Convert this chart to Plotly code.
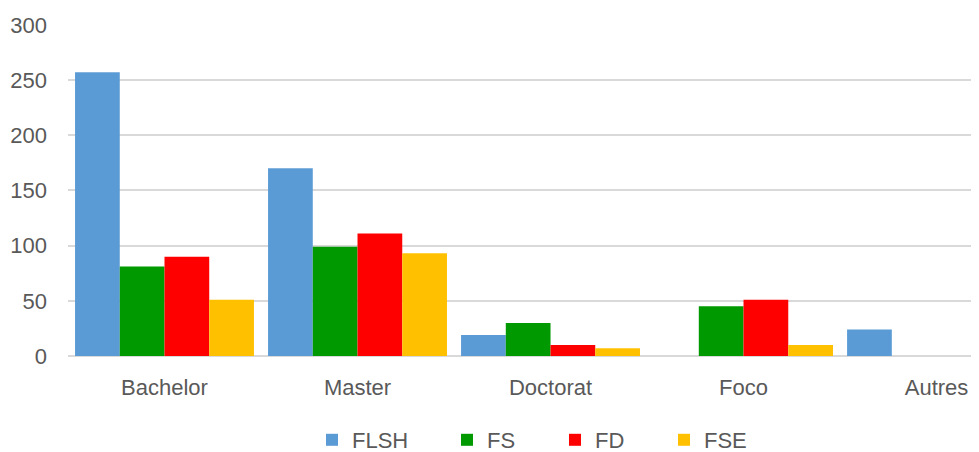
import plotly.graph_objects as go

categories = ["Bachelor", "Master", "Doctorat", "Foco", "Autres"]
flsh = [257, 170, 19, 0, 24]
fs = [81, 99, 30, 45, 0]
fd = [90, 111, 10, 51, 0]
fse = [51, 93, 7, 10, 0]
y_ticks = [0, 50, 100, 150, 200, 250, 300]

series = [
    ("FLSH", flsh, "#5B9BD5", "legend"),
    ("FS", fs, "#009900", "legend2"),
    ("FD", fd, "#FF0000", "legend3"),
    ("FSE", fse, "#FFC000", "legend4"),
]

# page body has an 8px margin, so the figure is sized to fit inside the window
OFF = 8
W, H = 979 - OFF, 452 - OFF
fig = go.Figure()
for name, vals, color, lg in series:
    fig.add_trace(go.Bar(x=categories, y=vals, name=name, marker_color=color,
                         marker_line_width=0, legend=lg))

font = dict(family="Liberation Sans, Arial, sans-serif", size=22, color="#595959")
legend_x = [328, 463, 571, 680]
common = dict(xref="container", yref="container", xanchor="left", yanchor="middle",
              font=font, bgcolor="rgba(0,0,0,0)", borderwidth=0, orientation="h")
lay = {}
for i, key in enumerate(["legend", "legend2", "legend3", "legend4"]):
    lay[key] = dict(x=(legend_x[i] - OFF - 16) / W, y=1 - (440 - OFF) / H, **common)

fig.update_layout(
    width=W, height=H,
    margin=dict(l=68 - OFF, r=0, t=24 - OFF, b=H - (356 - OFF), autoexpand=False),
    plot_bgcolor="white", paper_bgcolor="white",
    barmode="group", bargap=0.073, bargroupgap=0,
    font=font,
    showlegend=True,
    xaxis=dict(range=[-0.5, 4.22], showgrid=False, showline=False, ticks="",
               tickfont=font, ticklabelstandoff=16, automargin=False),
    yaxis=dict(range=[0, 300.8], tickvals=y_ticks, showgrid=True, gridcolor="#D9D9D9",
               gridwidth=2, zeroline=True, zerolinecolor="#D9D9D9", zerolinewidth=2,
               showline=False, ticks="", tickfont=font, ticklabelstandoff=20,
               automargin=False),
    **lay,
)
fig.write_html("out.html")
